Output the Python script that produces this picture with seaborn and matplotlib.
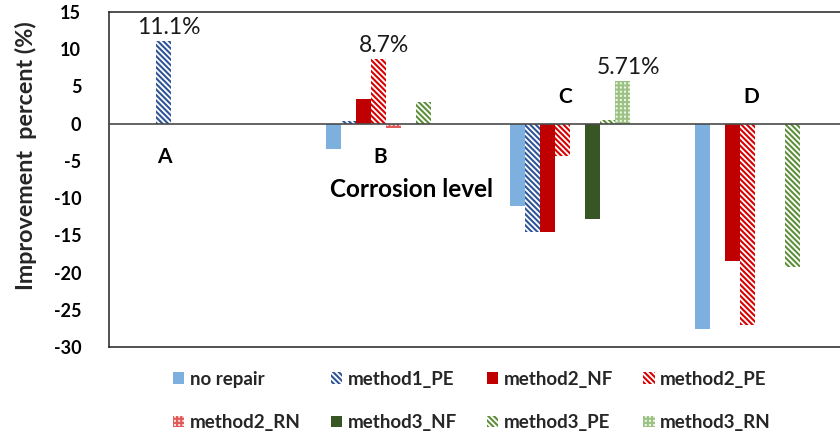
import numpy as np
import pandas as pd
import matplotlib
matplotlib.use("Agg")
import matplotlib.pyplot as plt
import matplotlib.patches as mpatches
import seaborn as sns

# Corrosion levels and repair methods
levels = ["A", "B", "C", "D"]
series = ["no repair", "method1_PE", "method2_NF", "method2_PE",
          "method2_RN", "method3_NF", "method3_PE", "method3_RN"]

# Improvement percent per method, one value per corrosion level (A, B, C, D)
no_repair = [0.0, -3.4, -11.0, -27.6]
method1_pe = [11.1, 0.3, -14.6, 0.0]
method2_nf = [0.0, 3.3, -14.5, -18.4]
method2_pe = [0.0, 8.7, -4.4, -27.1]
method2_rn = [0.0, -0.6, 0.0, 0.0]
method3_nf = [0.0, 0.0, -12.8, 0.0]
method3_pe = [0.0, 2.9, 0.5, -19.2]
method3_rn = [0.0, 0.0, 5.71, 0.0]

values = [no_repair, method1_pe, method2_nf, method2_pe,
          method2_rn, method3_nf, method3_pe, method3_rn]

# Bars carrying a percent label: (level, series)
labelled = [("A", "method1_PE"), ("B", "method2_PE"), ("C", "method3_RN")]

y_ticks = [15, 10, 5, 0, -5, -10, -15, -20, -25, -30]

# Fill styles: (face colour, hatch colour, hatch)
stripes = "\\" * 6
checks = "+" * 4
styles = {
    "no repair":  ("#7EB0DF", "#7EB0DF", None),
    "method1_PE": ("white", "#2F5597", stripes),
    "method2_NF": ("#C00000", "#C00000", None),
    "method2_PE": ("white", "#D80000", stripes),
    "method2_RN": ("#FBE0E0", "#E05A5A", checks),
    "method3_NF": ("#375623", "#375623", None),
    "method3_PE": ("white", "#5E8F3A", stripes),
    "method3_RN": ("#EEF5E8", "#9CC283", checks),
}

df = pd.DataFrame({
    "level": np.repeat([levels], len(series), axis=0).ravel(),
    "series": np.repeat(series, len(levels)),
    "value": np.concatenate(values),
})

sns.set_theme(style="white")
plt.rcParams["font.family"] = ["Lato", "DejaVu Sans"]
plt.rcParams["hatch.linewidth"] = 1.5

fig = plt.figure(figsize=(8.4, 4.33), dpi=100)
ax = fig.add_axes([109 / 840, 1 - 347 / 433, 738 / 840, 335 / 433])

sns.barplot(data=df, x="level", y="value", hue="series",
            order=levels, hue_order=series, width=0.652, gap=0,
            dodge=True, errorbar=None, legend=False, ax=ax)

for name, cont in zip(series, ax.containers):
    face, hcol, hatch = styles[name]
    for bar in cont:
        bar.set_facecolor(face)
        bar.set_edgecolor(hcol)
        bar.set_linewidth(0)
        if hatch:
            bar.set_hatch(hatch)

# Percent labels above the labelled bars
for lvl, name in labelled:
    cont = ax.containers[series.index(name)]
    bar = cont[levels.index(lvl)]
    v = values[series.index(name)][levels.index(lvl)]
    ax.annotate(f"{v}%", (bar.get_x() + bar.get_width() / 2, v),
                xytext=(4, 2), textcoords="offset points",
                ha="center", va="bottom", fontsize=16.5, color="#1a1a1a")

# Level letters next to the zero line
letter_pos = {"A": (-0.2, -4.5), "B": (0.97, -4.5), "C": (1.97, 3.6), "D": (2.98, 3.6)}
for lvl in levels:
    x, y = letter_pos[lvl]
    ax.text(x, y, lvl, ha="center", va="center", fontsize=15,
            fontweight="bold", color="black")
ax.text(1.14, -8.9, "Corrosion level", ha="center", va="center",
        fontsize=17.5, fontweight="bold", color="black")

ax.axhline(0, color="#4a4a4a", lw=1.2, zorder=5)
ax.set_xlim(-0.5, 3.5)
ax.set_ylim(-30, 15)
ax.set_yticks(y_ticks)
ax.set_yticklabels([str(t) for t in y_ticks], fontsize=13, fontweight="bold")
ax.set_xticks([])
ax.set_xlabel("")
ax.set_ylabel("Improvement  percent (%)", fontsize=16.8, fontweight="bold")
ax.yaxis.set_label_coords(-0.098, 0.57)
ax.tick_params(axis="y", length=0, pad=20, colors="black")
for side in ["left", "top", "bottom", "right"]:
    ax.spines[side].set_color("#222222")
    ax.spines[side].set_linewidth(1.1)

# Legend, filled row by row
handles = []
for name in series:
    face, hcol, hatch = styles[name]
    handles.append(mpatches.Patch(facecolor=face, edgecolor=hcol,
                                  linewidth=0, hatch=hatch, label=name))
order = [0, 4, 1, 5, 2, 6, 3, 7]
fig.legend([handles[i] for i in order], [series[i] for i in order],
           ncol=4, loc="center", bbox_to_anchor=(472 / 840, 1 - 401 / 433),
           frameon=False, prop={"weight": "bold", "size": 13.5},
           handlelength=0.6, handleheight=0.6, handletextpad=0.3,
           columnspacing=1.6, labelspacing=1.4)

fig.savefig("out.png", dpi=100)
